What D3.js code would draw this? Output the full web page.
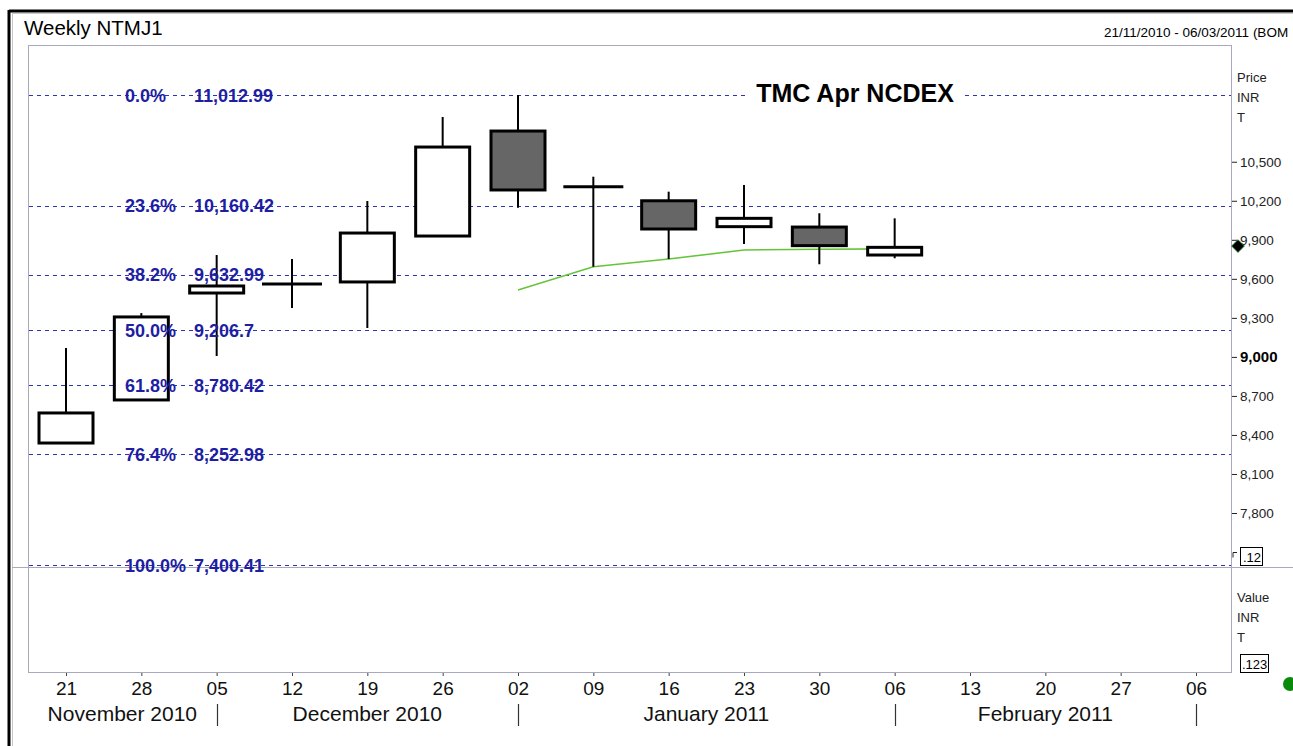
<html>
<head>
    <title>Weekly NTMJ1</title>
    <style>
        body { margin: 0; background: #fff; }
        text { font-family: "Liberation Sans", Arial, sans-serif; }
    </style>
</head>
<body>
    <svg id="container" width="1293" height="746"></svg>
    <script src="https://d3js.org/d3.v7.min.js"></script>
    <script>
        // week ticks along the date axis
        let weeks = ["2010-11-21", "2010-11-28", "2010-12-05", "2010-12-12", "2010-12-19", "2010-12-26",
                     "2011-01-02", "2011-01-09", "2011-01-16", "2011-01-23", "2011-01-30", "2011-02-06",
                     "2011-02-13", "2011-02-20", "2011-02-27", "2011-03-06"]

        // weekly candles
        let candleDates = weeks.slice(0, 12)
        let opens  = [8338, 8669, 9491, 9560, 9576, 9929, 10736, 10308, 10200, 10001, 9998, 9783]
        let closes = [8569, 9307, 9545, 9560, 9952, 10613, 10283, 10308, 9983, 10065, 9855, 9842]
        let highs  = [9068, 9337, 9783, 9752, 10198, 10844, 11013, 10385, 10270, 10321, 10104, 10065]
        let lows   = [8338, 8669, 9007, 9376, 9222, 9929, 10147, 9693, 9752, 9868, 9712, 9758]

        // green average line
        let maDates  = ["2011-01-02", "2011-01-09", "2011-01-16", "2011-01-23", "2011-01-30", "2011-02-06"]
        let maValues = [9514, 9693, 9752, 9822, 9827, 9830]

        // fibonacci retracement levels
        let fibPcts   = ["0.0%", "23.6%", "38.2%", "50.0%", "61.8%", "76.4%", "100.0%"]
        let fibValues = [11012.99, 10160.42, 9632.99, 9206.7, 8780.42, 8252.98, 7400.41]

        let priceTicks = [10500, 10200, 9900, 9600, 9300, 9000, 8700, 8400, 8100, 7800]
        let lastPrice = 9852

        let monthNames = ["November 2010", "December 2010", "January 2011", "February 2011"]
        let monthEnds  = ["2010-12-05", "2011-01-02", "2011-02-06", "2011-03-06"]

        let parse = d3.timeParse("%Y-%m-%d")
        let svg = d3.select("#container")

        let pLeft = 28, pRight = 1231, pTop = 45, pSplit = 567, pBottom = 672

        let x = d3.scaleTime()
                  .domain([parse(weeks[0]), parse(weeks[weeks.length - 1])])
                  .range([66, 1196])
        let y = d3.scaleLinear()
                  .domain([fibValues[6], fibValues[0]])
                  .range([565, 95])

        svg.append("rect").attr("width", 1293).attr("height", 746).attr("fill", "white")

        // outer frame
        svg.append("line").attr("x1", 9).attr("x2", 1293).attr("y1", 11).attr("y2", 11)
           .attr("stroke", "black").attr("stroke-width", 3)
        svg.append("line").attr("x1", 9).attr("x2", 9).attr("y1", 10).attr("y2", 746)
           .attr("stroke", "black").attr("stroke-width", 3)
        svg.append("line").attr("x1", 12).attr("x2", 1293).attr("y1", 13.5).attr("y2", 13.5)
           .attr("stroke", "#c8c8c8")
        svg.append("line").attr("x1", 12.5).attr("x2", 12.5).attr("y1", 13).attr("y2", 746)
           .attr("stroke", "#c8c8c8")

        // panels
        svg.append("rect").attr("x", pLeft + 0.5).attr("y", pTop + 0.5)
           .attr("width", pRight - pLeft).attr("height", pBottom - pTop)
           .attr("fill", "none").attr("stroke", "#a8a8be")
        svg.append("line").attr("x1", 12).attr("x2", 1293).attr("y1", pSplit + 0.5).attr("y2", pSplit + 0.5)
           .attr("stroke", "#a8a8be")

        // header texts
        svg.append("text").attr("x", 24).attr("y", 35).attr("font-size", 20.5).text("Weekly NTMJ1")
        svg.append("text").attr("x", 1104).attr("y", 37).attr("font-size", 13.5).text("21/11/2010 - 06/03/2011 (BOM")

        // fibonacci lines
        let fib = svg.append("g")
        fib.selectAll("line").data(fibValues).enter().append("line")
           .attr("x1", pLeft + 1).attr("x2", pRight)
           .attr("y1", d => Math.round(y(d)) + 0.5).attr("y2", d => Math.round(y(d)) + 0.5)
           .attr("stroke", "#3030b8").attr("stroke-dasharray", "4,4")

        // chart title with white background over the 0% line
        let titleBg = svg.append("rect").attr("fill", "white")
        let title = svg.append("text").attr("x", 855).attr("y", 102)
                       .attr("text-anchor", "middle").attr("font-size", 25).attr("font-weight", "bold")
                       .text("TMC Apr NCDEX")
        let tb = title.node().getBBox()
        titleBg.attr("x", tb.x - 9).attr("y", tb.y).attr("width", tb.width + 18).attr("height", tb.height)

        // average line
        let line = d3.line().x(d => x(parse(d.date))).y(d => y(d.value))
        svg.append("path")
           .datum(maDates.map((d, i) => ({date: d, value: maValues[i]})))
           .attr("d", line).attr("fill", "none").attr("stroke", "#66c43a").attr("stroke-width", 1.6)

        // candles
        let candles = candleDates.map((d, i) => ({date: parse(d), o: opens[i], c: closes[i], h: highs[i], l: lows[i]}))
        let bodyW = 54
        let cg = svg.append("g")
        cg.selectAll(".wick").data(candles).enter().append("line")
          .attr("class", "wick")
          .attr("x1", d => x(d.date)).attr("x2", d => x(d.date))
          .attr("y1", d => y(d.h)).attr("y2", d => y(d.l))
          .attr("stroke", "black").attr("stroke-width", 2)
        cg.selectAll(".body").data(candles.filter(d => d.o != d.c)).enter().append("rect")
          .attr("class", "body")
          .attr("x", d => x(d.date) - bodyW / 2)
          .attr("y", d => y(Math.max(d.o, d.c)))
          .attr("width", bodyW)
          .attr("height", d => Math.abs(y(d.o) - y(d.c)))
          .attr("fill", d => d.c > d.o ? "white" : "#666666")
          .attr("stroke", "black").attr("stroke-width", 3)
        cg.selectAll(".doji").data(candles.filter(d => d.o == d.c)).enter().append("line")
          .attr("class", "doji")
          .attr("x1", d => x(d.date) - 30).attr("x2", d => x(d.date) + 30)
          .attr("y1", d => y(d.c)).attr("y2", d => y(d.c))
          .attr("stroke", "black").attr("stroke-width", 3)

        // fibonacci labels drawn over the candles
        let fibText = svg.append("g").attr("font-size", 18).attr("fill", "#1e1ea2").attr("font-weight", "bold")
        fibText.selectAll(".pct").data(fibPcts).enter().append("text")
           .attr("class", "pct")
           .attr("x", 125).attr("y", (d, i) => y(fibValues[i]) + 6.5)
           .text(d => d)
        fibText.selectAll(".val").data(fibValues).enter().append("text")
           .attr("class", "val")
           .attr("x", 194).attr("y", d => y(d) + 6.5)
           .text(d => d3.format(",")(d))

        // right price axis
        let yAxis = d3.axisRight(y).tickValues(priceTicks).tickSize(5).tickPadding(3)
                      .tickFormat(d3.format(","))
        let ya = svg.append("g").attr("transform", `translate(${pRight + 1},0)`).call(yAxis)
        ya.select(".domain").remove()
        ya.selectAll("text").attr("font-size", 13.5).attr("fill", "#222")
          .attr("font-family", '"Liberation Sans", Arial, sans-serif')
        ya.selectAll(".tick").filter(d => d == 9000).select("text")
          .attr("font-weight", "bold").attr("font-size", 15).attr("fill", "black")
        ya.selectAll("line").attr("stroke", "#222")

        // unit labels
        let unitTop = ["Price", "INR", "T"]
        svg.selectAll(".unitTop").data(unitTop).enter().append("text")
           .attr("class", "unitTop").attr("x", 1237).attr("y", (d, i) => 82 + i * 20)
           .attr("font-size", 13).attr("fill", "#222").text(d => d)
        let unitBottom = ["Value", "INR", "T"]
        svg.selectAll(".unitBot").data(unitBottom).enter().append("text")
           .attr("class", "unitBot").attr("x", 1237).attr("y", (d, i) => 602 + i * 20)
           .attr("font-size", 13).attr("fill", "#222").text(d => d)

        // small boxed markers
        let y7500 = Math.round(y(7500)) + 0.5
        svg.append("path").attr("d", `M${pRight + 6},${y7500} H${pRight + 2} V${y7500 + 5}`)
           .attr("fill", "none").attr("stroke", "#222")
        svg.append("rect").attr("x", 1240.5).attr("y", 547.5).attr("width", 22).attr("height", 18)
           .attr("fill", "white").attr("stroke", "black")
        svg.append("text").attr("x", 1243).attr("y", 562).attr("font-size", 13).text(".12")
        svg.append("rect").attr("x", 1240.5).attr("y", 654.5).attr("width", 28).attr("height", 18)
           .attr("fill", "white").attr("stroke", "black")
        svg.append("text").attr("x", 1242).attr("y", 669).attr("font-size", 13).text(".123")

        // last price diamond
        svg.append("path").attr("transform", `translate(1238,${y(lastPrice)}) rotate(45)`)
           .attr("d", "M-4.5,-4.5H4.5V4.5H-4.5Z").attr("fill", "black").attr("stroke", "#2a7a2a").attr("stroke-width", 0.8)

        // green status dot
        svg.append("circle").attr("cx", 1290).attr("cy", 684).attr("r", 7).attr("fill", "#0a8a0a")

        // bottom date axis
        let xAxis = d3.axisBottom(x).tickValues(weeks.map(parse)).tickSize(3).tickPadding(6)
                      .tickFormat(d3.timeFormat("%d"))
        let xa = svg.append("g").attr("transform", `translate(0,${pBottom + 1})`).call(xAxis)
        xa.select(".domain").remove()
        xa.selectAll("text").attr("font-size", 19).attr("fill", "#111")
          .attr("font-family", '"Liberation Sans", Arial, sans-serif')
        xa.selectAll("line").attr("stroke", "#444")

        // month labels and dividers
        let ends = monthEnds.map(d => x(parse(d)))
        svg.selectAll(".monthDiv").data(ends).enter().append("line")
           .attr("class", "monthDiv")
           .attr("x1", d => Math.round(d) + 0.5).attr("x2", d => Math.round(d) + 0.5)
           .attr("y1", 704).attr("y2", 726)
           .attr("stroke", "#333").attr("stroke-width", 1.2)
        svg.selectAll(".month").data(monthNames).enter().append("text")
           .attr("class", "month")
           .attr("x", (d, i) => ((i == 0 ? pLeft : ends[i - 1]) + ends[i]) / 2)
           .attr("y", 721).attr("text-anchor", "middle")
           .attr("font-size", 21).attr("fill", "#111")
           .text(d => d)
    </script>
</body>
</html>
